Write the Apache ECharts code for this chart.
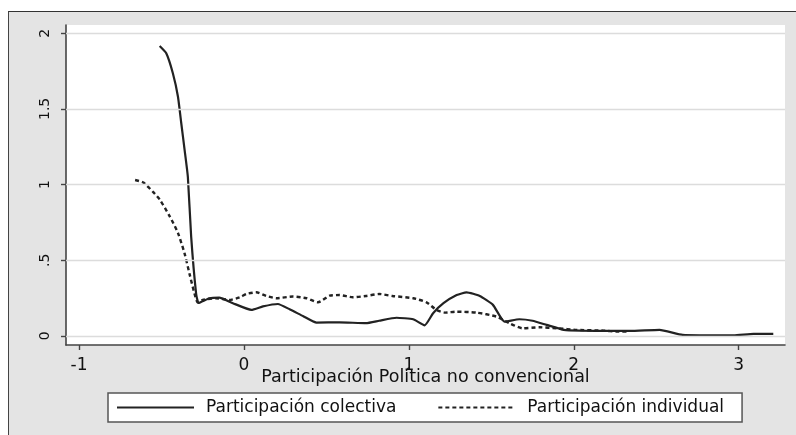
<!DOCTYPE html>
<html>
<head>
<meta charset="utf-8">
<script src="https://cdn.jsdelivr.net/npm/echarts@6/dist/echarts.min.js"></script>
<style>
html,body{margin:0;padding:0;background:#fff;overflow:hidden;}
#frame{position:absolute;left:8px;top:11px;width:800px;height:440px;background:#e4e4e4;border-top:1.5px solid #333;border-left:1.5px solid #444;box-sizing:border-box;}
#chart{position:absolute;left:0;top:0;width:796px;height:435px;}
</style>
</head>
<body>
<div id="frame"></div>
<div id="chart"></div>
<script>
// Data
const colectiva = [
  [-0.511,1.915],[-0.471,1.867],[-0.431,1.735],[-0.40,1.58],[-0.38,1.405],[-0.36,1.23],
  [-0.34,1.05],[-0.32,0.656],[-0.29,0.28],[-0.275,0.218],[-0.21,0.249],[-0.15,0.253],
  [-0.067,0.216],[0.045,0.172],[0.115,0.195],[0.206,0.211],[0.277,0.176],[0.36,0.13],
  [0.44,0.088],[0.58,0.09],[0.74,0.084],[0.82,0.10],[0.925,0.12],[1.026,0.11],
  [1.096,0.07],[1.147,0.15],[1.21,0.216],[1.29,0.27],[1.35,0.288],[1.43,0.264],
  [1.51,0.205],[1.58,0.094],[1.67,0.11],[1.75,0.10],[1.835,0.073],[1.94,0.04],
  [2.04,0.035],[2.22,0.033],[2.34,0.033],[2.52,0.04],[2.66,0.007],[2.97,0.003],
  [3.09,0.013],[3.21,0.013]
];
const individual = [
  [-0.66,1.03],[-0.61,1.013],[-0.55,0.95],[-0.51,0.90],[-0.45,0.79],[-0.40,0.68],
  [-0.36,0.545],[-0.33,0.41],[-0.30,0.28],[-0.28,0.22],[-0.25,0.238],[-0.17,0.249],
  [-0.087,0.238],[-0.026,0.255],[0.015,0.277],[0.075,0.288],[0.136,0.264],[0.197,0.249],
  [0.297,0.26],[0.379,0.249],[0.449,0.222],[0.52,0.266],[0.58,0.27],[0.66,0.255],
  [0.74,0.264],[0.82,0.277],[0.90,0.264],[1.026,0.249],[1.107,0.222],[1.167,0.172],
  [1.22,0.154],[1.29,0.16],[1.41,0.154],[1.53,0.128],[1.61,0.084],[1.69,0.05],
  [1.79,0.057],[1.90,0.05],[2.02,0.04],[2.18,0.035],[2.26,0.029],[2.32,0.029]
];
const seriesNames = ['Participación colectiva','Participación individual'];
const xTicks = [-1,0,1,2,3];
const yTicks = [0,0.5,1,1.5,2];
const yTickLabels = ['0','.5','1','1.5','2'];
const xTitle = 'Participación Política no convencional';

const chart = echarts.init(document.getElementById('chart'));
const hFont = 'DejaVu Sans';
chart.setOption({
  animation:false,
  backgroundColor:'transparent',
  grid:{left:66,right:11,top:25,bottom:90,show:true,backgroundColor:'#fff',borderWidth:0},
  xAxis:{
    type:'value',min:-1.079,max:3.281,
    name:xTitle,nameLocation:'middle',nameGap:23,nameMoveOverlap:false,
    nameTextStyle:{fontFamily:hFont,fontSize:17.5,color:'#111'},
    axisLine:{show:true,onZero:false,lineStyle:{color:'#444',width:1.6}},
    axisTick:{show:true,length:5,customValues:xTicks,lineStyle:{color:'#444',width:1.4}},
    axisLabel:{customValues:xTicks,margin:12,fontFamily:hFont,fontSize:17,color:'#111',
      formatter:v=>String(v)},
    splitLine:{show:false}
  },
  yAxis:{
    type:'value',min:-0.06,max:2.054,
    axisLine:{show:true,onZero:false,lineStyle:{color:'#444',width:1.6}},
    axisTick:{show:true,length:5,customValues:yTicks,lineStyle:{color:'#444',width:1.4}},
    axisLabel:{customValues:yTicks,rotate:90,margin:14,fontFamily:'DejaVu Sans',fontSize:14,color:'#111',
      formatter:v=>{const i=yTicks.findIndex(t=>Math.abs(t-v)<1e-9);return i>=0?yTickLabels[i]:'';}},
    splitLine:{show:false}
  },
  legend:{
    left:108,top:393,
    data:seriesNames,
    orient:'horizontal',
    itemWidth:77,itemHeight:12,itemGap:41,
    padding:[6,18,6,8],
    backgroundColor:'#fff',borderColor:'#555',borderWidth:1.5,borderRadius:0,
    itemStyle:{opacity:0,color:'transparent',borderWidth:0},
    textStyle:{fontFamily:hFont,fontSize:17,color:'#111',padding:[0,0,0,7]},
    selectedMode:false
  },
  series:[
    {
      name:seriesNames[0],type:'line',data:colectiva,symbol:'none',smooth:0.15,
      lineStyle:{color:'#222',width:2.2,type:'solid'},itemStyle:{color:'#222'},z:3,
      markLine:{
        silent:true,symbol:['none','none'],label:{show:false},
        lineStyle:{color:'#dcdcdc',type:'solid',width:1.3},
        data:yTicks.map(t=>({yAxis:t}))
      }
    },
    {
      name:seriesNames[1],type:'line',data:individual,symbol:'none',smooth:0.2,
      lineStyle:{color:'#222',width:2.4,type:[4,3]},itemStyle:{color:'#222'},z:4
    }
  ]
});
</script>
</body>
</html>
